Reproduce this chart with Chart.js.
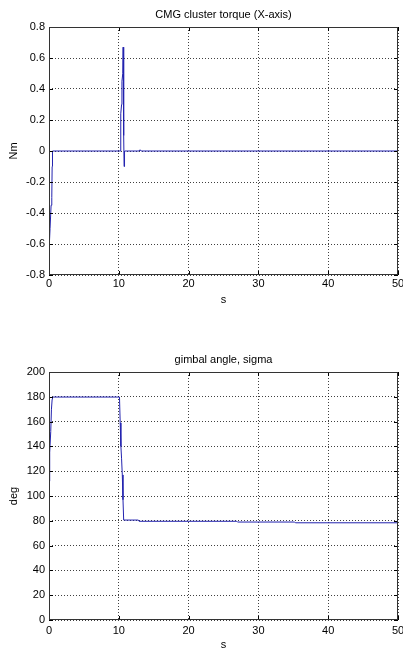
<!DOCTYPE html>
<html>
<head>
<meta charset="utf-8">
<script src="https://cdn.jsdelivr.net/npm/chart.js@4.4.0/dist/chart.umd.min.js"></script>
<style>
  html, body { margin: 0; padding: 0; background: #fff; }
  #wrap { position: relative; width: 403px; height: 653px; overflow: hidden; }
  canvas { position: absolute; left: 0; }
</style>
</head>
<body>
<div id="wrap">
  <canvas id="torqueChart" width="403" height="320" style="top:0"></canvas>
  <canvas id="gimbalChart" width="403" height="333" style="top:320px"></canvas>
</div>
<script>
// --- Data ---
const torqueTime  = [0, 0.05, 0.15, 0.3, 0.4, 0.45, 0.5, 10.2, 10.28, 10.4, 10.45, 10.57, 10.62, 10.68, 10.72, 10.76, 10.82, 12.9, 13.05, 13.2, 50];
const torqueValue = [-0.62, -0.6, -0.5, -0.35, -0.3, -0.1, 0, 0, 0.24, 0.3, 0.45, 0.5, 0.67, 0.66, 0.1, -0.1, 0, 0, 0.008, 0, 0];

const gimbalTime  = [0, 0.1, 0.25, 0.35, 0.45, 0.5, 10.1, 10.2, 10.3, 10.4, 10.5, 10.6, 10.7, 12.8, 12.9, 26.9, 27, 35.2, 35.3, 50];
const gimbalAngle = [112, 135, 152, 170, 178, 179.8, 179.8, 159, 140, 130, 117, 97, 80.6, 80.6, 79.6, 79.6, 79, 79, 78.4, 78.4];

const timeTicks   = [0, 10, 20, 30, 40, 50];
const torqueTicks = [-0.8, -0.6, -0.4, -0.2, 0, 0.2, 0.4, 0.6, 0.8];
const gimbalTicks = [0, 20, 40, 60, 80, 100, 120, 140, 160, 180, 200];

// --- Style ---
const FONT = { family: "'Liberation Sans', Arial, sans-serif", size: 11 };
const LINE_COLOR = 'rgb(35, 35, 175)';
const GRID_COLOR = 'rgba(0, 0, 0, 0.75)';

// MATLAB-like box with inward tick marks
const boxPlugin = {
  id: 'matlabBox',
  afterDraw(chart) {
    const { ctx, chartArea: a, scales: { x, y } } = chart;
    ctx.save();
    ctx.lineWidth = 1;
    ctx.strokeStyle = '#000';
    ctx.beginPath();
    x.ticks.forEach(t => {
      const px = Math.round(x.getPixelForValue(t.value)) + 0.5;
      ctx.moveTo(px, a.bottom); ctx.lineTo(px, a.bottom - 4);
      ctx.moveTo(px, a.top); ctx.lineTo(px, a.top + 4);
    });
    y.ticks.forEach(t => {
      const py = Math.round(y.getPixelForValue(t.value)) + 0.5;
      ctx.moveTo(a.left, py); ctx.lineTo(a.left + 4, py);
      ctx.moveTo(a.right, py); ctx.lineTo(a.right - 4, py);
    });
    ctx.stroke();
    ctx.strokeStyle = '#333';
    ctx.strokeRect(a.left + 0.5, a.top + 0.5, a.right - a.left - 1, a.bottom - a.top - 1);
    ctx.restore();
  }
};

function createChart(canvasId, cfg) {
  const ctx = document.getElementById(canvasId).getContext('2d');
  return new Chart(ctx, {
    type: 'line',
    data: {
      datasets: [{
        data: cfg.t.map((x, i) => ({ x: x, y: cfg.v[i] })),
        borderColor: LINE_COLOR,
        borderWidth: 1,
        pointRadius: 0,
        tension: 0,
        fill: false
      }]
    },
    options: {
      responsive: false,
      animation: false,
      devicePixelRatio: 1,
      layout: { padding: { left: 0, right: 5, top: 0, bottom: 0 } },
      plugins: {
        legend: { display: false },
        tooltip: { enabled: false },
        title: {
          display: true,
          text: cfg.title,
          fullSize: false,
          color: '#000',
          font: { ...FONT, weight: 'normal' },
          padding: { top: cfg.titleTop, bottom: 5.4 }
        }
      },
      scales: {
        x: {
          type: 'linear',
          min: 0,
          max: 50,
          afterBuildTicks: s => { s.ticks = timeTicks.map(value => ({ value })); },
          afterFit: s => { s.height = cfg.xHeight; s.paddingLeft = 0; s.paddingRight = 0; },
          grid: { color: GRID_COLOR, drawTicks: false },
          border: { display: false, dash: [1, 2] },
          ticks: { color: '#000', font: FONT, padding: cfg.xTickPad, maxRotation: 0, callback: v => String(v) },
          title: { display: true, text: 's', color: '#000', font: FONT, padding: { top: 0, bottom: cfg.xTitlePad } }
        },
        y: {
          min: cfg.yMin,
          max: cfg.yMax,
          afterBuildTicks: s => { s.ticks = cfg.yTicks.map(value => ({ value })); },
          afterFit: s => { s.width = 49; s.paddingTop = 0; s.paddingBottom = 0; },
          grid: { color: GRID_COLOR, drawTicks: false },
          border: { display: false, dash: [1, 2] },
          ticks: { color: '#000', font: FONT, padding: 4, callback: v => String(v) },
          title: { display: true, text: cfg.yLabel, color: '#000', font: FONT, padding: { top: 7, bottom: 0 } }
        }
      }
    },
    plugins: [boxPlugin]
  });
}

createChart('torqueChart', {
  title: 'CMG cluster torque (X-axis)',
  yLabel: 'Nm',
  t: torqueTime, v: torqueValue,
  yMin: -0.8, yMax: 0.8, yTicks: torqueTicks,
  titleTop: 8.4, xHeight: 45, xTickPad: 2, xTitlePad: 13.4
});

createChart('gimbalChart', {
  title: 'gimbal angle, sigma',
  yLabel: 'deg',
  t: gimbalTime, v: gimbalAngle,
  yMin: 0, yMax: 200, yTicks: gimbalTicks,
  titleTop: 33.4, xHeight: 33, xTickPad: 4, xTitlePad: 1.4
});
</script>
</body>
</html>
